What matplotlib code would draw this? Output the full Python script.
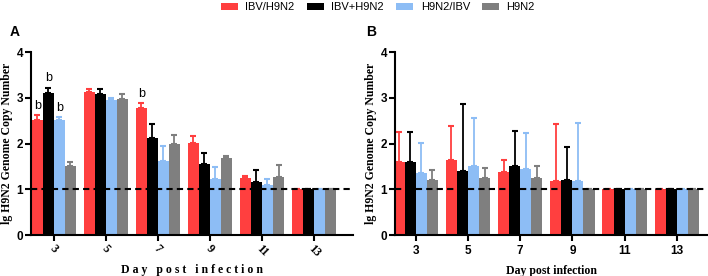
import numpy as np
import matplotlib
matplotlib.use('Agg')
import matplotlib.pyplot as plt

# data
days = ['3', '5', '7', '9', '11', '13']
groups = ['IBV/H9N2', 'IBV+H9N2', 'H9N2/IBV', 'H9N2']
colors = ['#FF3F3F', '#000000', '#8DBDF5', '#7F7F7F']

# panel A: means and upper error (top of whisker)
a_mean = [[2.51, 3.13, 2.77, 2.02, 1.25, 1.0],
          [3.11, 3.09, 2.11, 1.55, 1.16, 1.0],
          [2.51, 2.95, 1.62, 1.22, 1.10, 1.0],
          [1.51, 2.97, 1.99, 1.69, 1.27, 1.0]]
a_top = [[2.62, 3.20, 2.89, 2.16, 1.29, 1.0],
         [3.22, 3.19, 2.42, 1.80, 1.43, 1.0],
         [2.58, 3.00, 1.94, 1.49, 1.23, 1.0],
         [1.60, 3.09, 2.19, 1.72, 1.52, 1.0]]
# significance letters (group index, day index)
a_marks = [(0, 0), (1, 0), (2, 0), (0, 2)]

# panel B
b_mean = [[1.60, 1.63, 1.38, 1.18, 1.0, 1.0],
          [1.60, 1.39, 1.50, 1.20, 1.0, 1.0],
          [1.36, 1.50, 1.45, 1.17, 1.0, 1.0],
          [1.20, 1.24, 1.24, 1.00, 1.0, 1.0]]
b_top = [[2.25, 2.38, 1.63, 2.42, 1.0, 1.0],
         [2.25, 2.87, 2.28, 1.93, 1.0, 1.0],
         [2.02, 2.55, 2.24, 2.44, 1.0, 1.0],
         [1.41, 1.46, 1.51, 1.00, 1.0, 1.0]]

sans = 'Liberation Sans'
serif = 'Liberation Serif'

fig = plt.figure(figsize=(7.08, 2.76), dpi=100)
axA = fig.add_axes([31/708, 1-235/276, 322/708, 183/276])
axB = fig.add_axes([395/708, 1-235/276, 312/708, 183/276])

x = np.arange(len(days))
w = 0.212


def draw(ax, means, tops, xlim):
    handles = []
    for i in range(len(groups)):
        pos = x + (i - 1.5) * w
        m = np.array(means[i])
        t = np.array(tops[i])
        err = np.vstack([np.zeros_like(m), t - m])
        b = ax.bar(pos, m, w, color=colors[i], label=groups[i], zorder=2)
        ax.errorbar(pos, m, yerr=err, fmt='none', ecolor=colors[i],
                    elinewidth=1.3, capsize=2.5, capthick=1.5, zorder=1)
        handles.append(b)
    ax.axhline(1, color='black', ls=(0, (3, 2)), lw=1.5, zorder=3)
    ax.set_ylim(0, 4)
    ax.set_xlim(*xlim)
    ax.set_yticks([0, 1, 2, 3, 4])
    ax.set_xticks(x)
    for s in ['top', 'right']:
        ax.spines[s].set_visible(False)
    for s in ['left', 'bottom']:
        ax.spines[s].set_linewidth(1.5)
    ax.tick_params(width=1.5, length=4, pad=1.5)
    for lab in ax.get_yticklabels():
        lab.set_fontfamily(sans)
        lab.set_fontweight('bold')
        lab.set_fontsize(8.5)
    ax.set_ylabel('lg H9N2 Genome Copy Number', fontfamily=serif,
                  fontweight='bold', fontsize=8.5, labelpad=3)
    return handles


handles = draw(axA, a_mean, a_top, (-0.44, 5.75))
axA.set_xticklabels(days, rotation=-45, ha='center', va='top',
                    fontfamily=serif, fontweight='bold', fontsize=8.5)
axA.set_xlabel('D a y   p o s t   i n f e c t i o n', fontfamily=serif,
               fontweight='bold', fontsize=8.5, labelpad=3)
for gi, di in a_marks:
    axA.text(x[di] + (gi - 1.5) * w, a_top[gi][di] + 0.07, 'b',
             ha='center', va='bottom', fontfamily=sans, fontsize=9)

draw(axB, b_mean, b_top, (-0.40, 5.58))
axB.set_xticklabels(days, fontfamily=sans, fontweight='bold', fontsize=8.5)
axB.tick_params(axis='x', pad=3)
axB.set_xlabel('Day post infection', fontfamily=serif,
               fontweight='bold', fontsize=8.5, labelpad=6)

fig.text(10/708, 1-32/276, 'A', fontfamily=sans, fontweight='bold',
         fontsize=10, va='center')
fig.text(366/708, 1-32/276, 'B', fontfamily=sans, fontweight='bold',
         fontsize=10, va='center')

fig.legend(handles, groups, loc='center', bbox_to_anchor=(378/708, 1-7/276),
           ncol=4, frameon=False, prop={'family': sans, 'size': 8},
           handlelength=1.5, handleheight=0.6, columnspacing=1.1,
           handletextpad=0.7)

fig.savefig('out.png', dpi=100)
